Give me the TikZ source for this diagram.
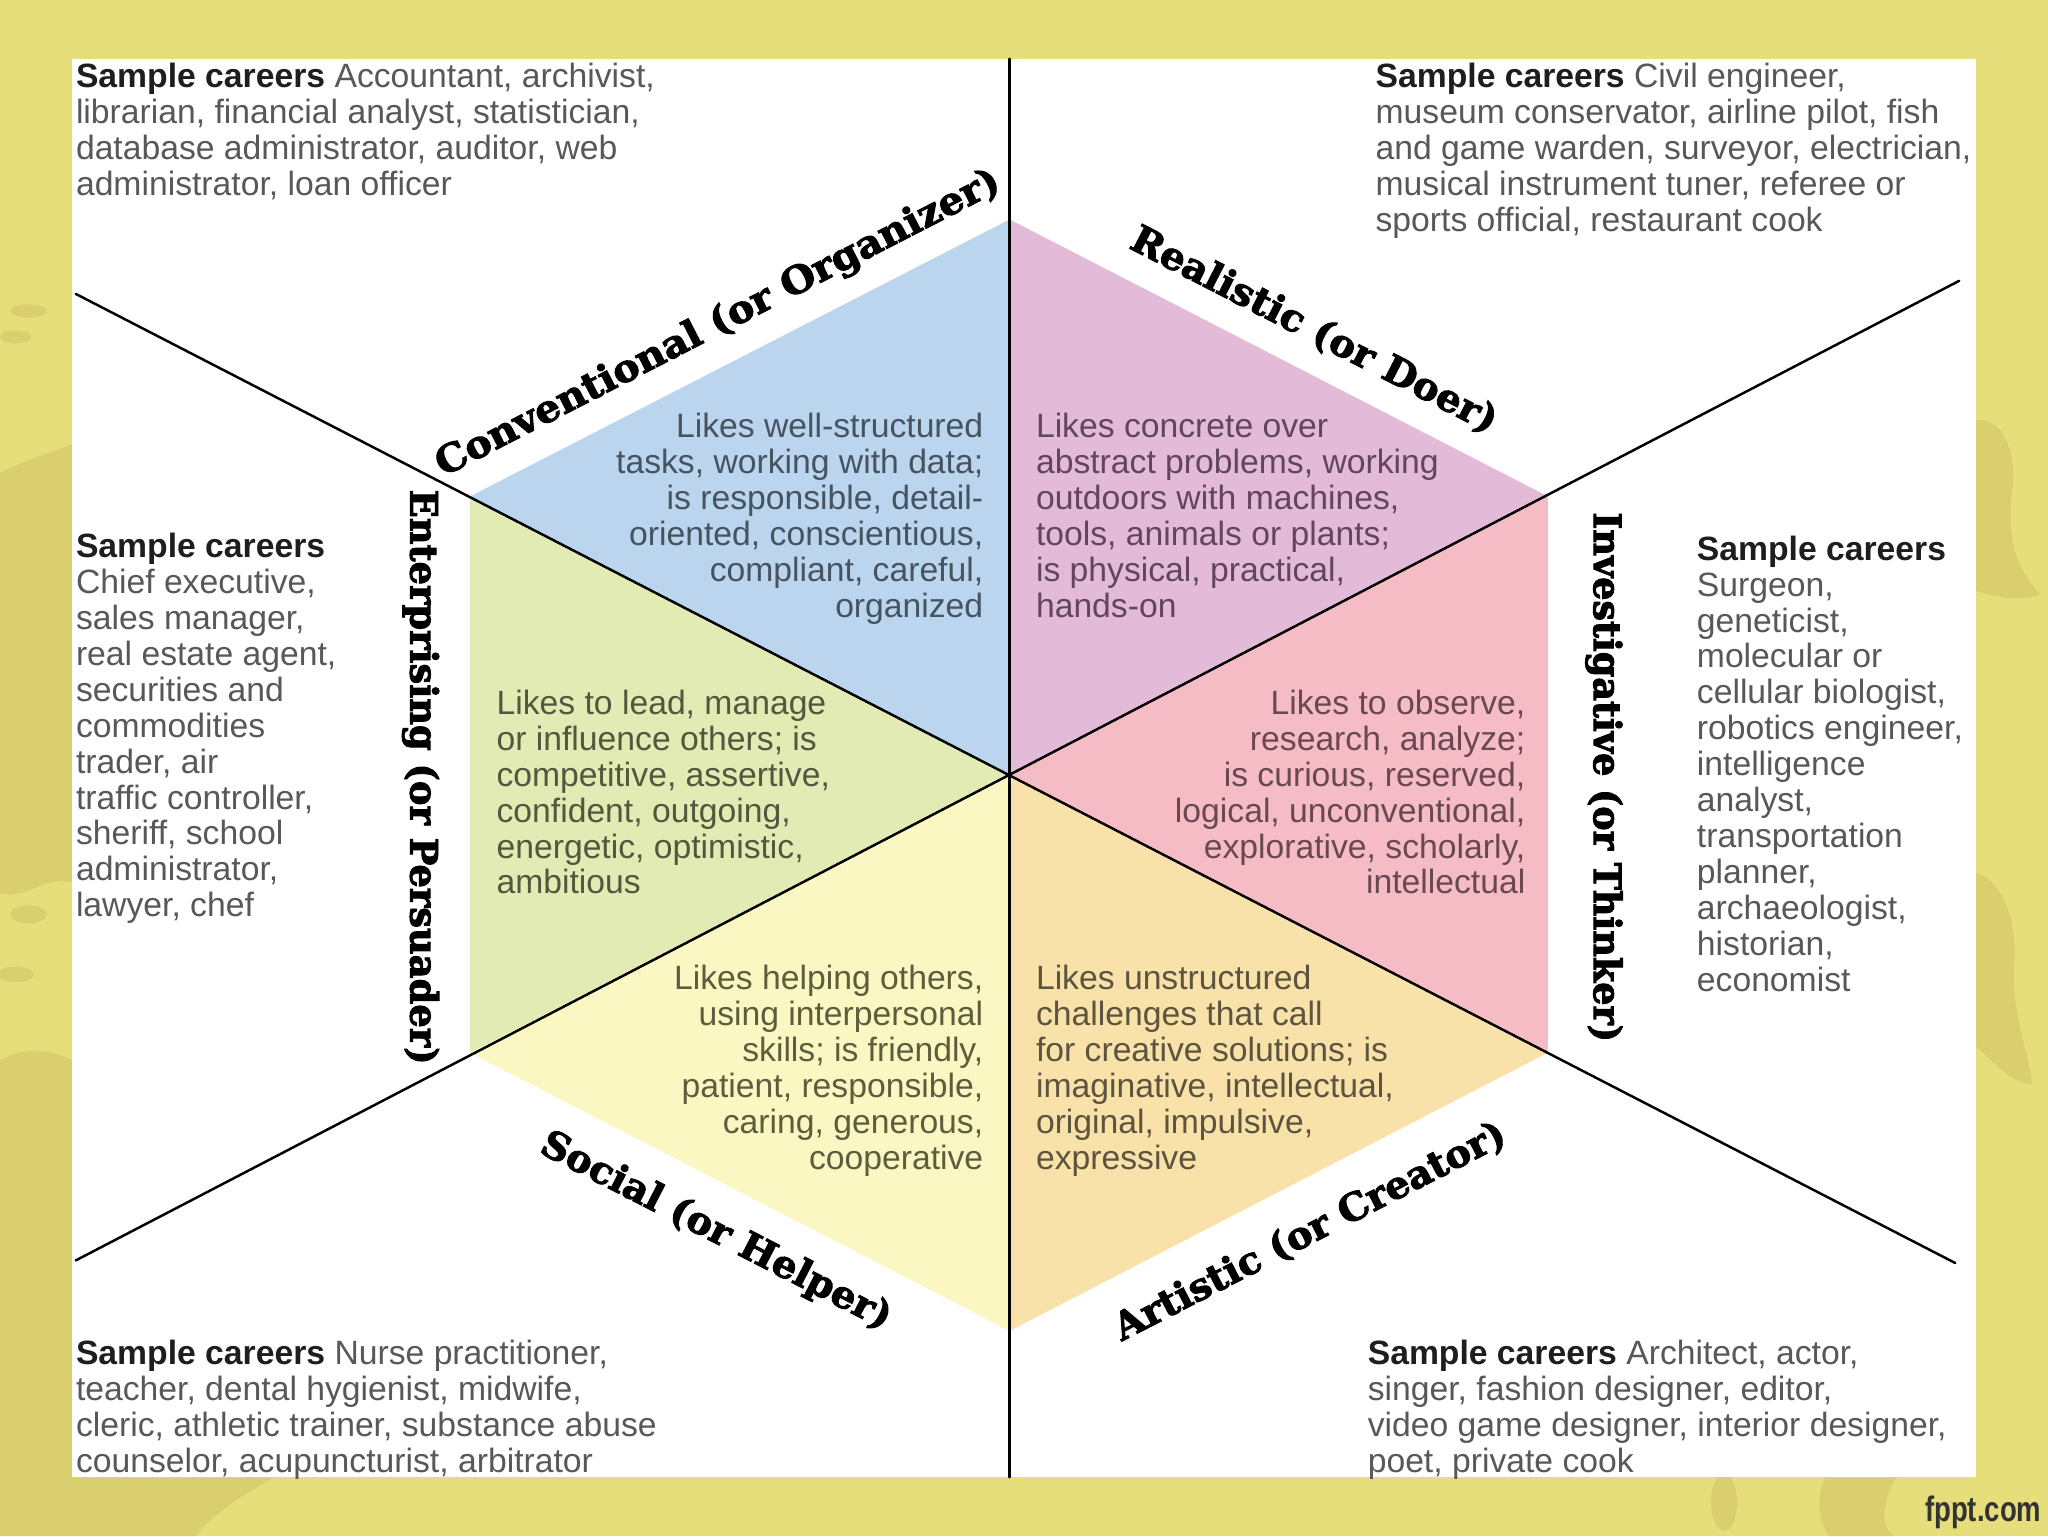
\documentclass[tikz,border=0pt]{standalone}
\usepackage{fontspec}
\setmainfont{Liberation Sans}
\newfontfamily\slab{DejaVu Serif}[BoldFeatures={FakeBold=2.5}]
\definecolor{bgyellow}{RGB}{229,222,122}
\definecolor{bgdark}{RGB}{217,207,111}
\definecolor{cblue}{RGB}{186,213,237}
\definecolor{rpink}{RGB}{228,186,217}
\definecolor{ipink}{RGB}{245,188,198}
\definecolor{aorange}{RGB}{249,226,170}
\definecolor{syellow}{RGB}{251,247,194}
\definecolor{egreen}{RGB}{227,235,180}
\definecolor{txtgrey}{RGB}{88,88,88}
\definecolor{txtdark}{RGB}{30,30,30}
\definecolor{tc}{RGB}{70,84,98}
\definecolor{tr}{RGB}{98,70,92}
\definecolor{te}{RGB}{82,88,62}
\definecolor{ti}{RGB}{105,72,82}
\definecolor{ts}{RGB}{95,92,62}
\definecolor{ta}{RGB}{92,84,62}
\tikzset{
  body/.style={font=\fontsize{25.8}{27.5}\selectfont, text=txtgrey, inner sep=0pt},
  careers/.style={body, align=left, anchor=north west},
  descl/.style={body, align=left, anchor=north west},
  descr/.style={body, align=right, anchor=north east},
  hexlabel/.style={font=\slab\bfseries\fontsize{29}{29}\selectfont, text=black, inner sep=0pt},
  divider/.style={line width=1.9pt, black, line cap=round},
  splotch/.style={fill=bgdark},
}
\newcommand{\samplec}{{\bfseries\color{txtdark}Sample careers}}
\begin{document}
\begin{tikzpicture}[x=1pt,y=-1pt]
\useasboundingbox (0,0) rectangle (1568,1176);
\fill[bgyellow] (0,0) rectangle (1568,1176);
% background splotches
\fill[splotch] (0,362) .. controls (20,352) and (40,346) .. (56,340) -- (56,676) .. controls (38,668) and (18,690) .. (0,684) -- cycle;
\fill[splotch] (0,812) .. controls (20,800) and (40,804) .. (56,812) -- (56,1131) -- (210,1131) .. controls (180,1148) and (160,1162) .. (150,1176) -- (0,1176) -- cycle;
\fill[splotch] (22,238) ellipse (14 and 5);
\fill[splotch] (12,258) ellipse (12 and 5);
\fill[splotch] (22,700) ellipse (14 and 7);
\fill[splotch] (12,746) ellipse (14 and 6);
\fill[splotch] (1512,322) .. controls (1532,318) and (1546,345) .. (1540,380) .. controls (1536,420) and (1548,440) .. (1562,455) .. controls (1545,462) and (1525,456) .. (1512,452) -- cycle;
\fill[splotch] (1512,668) .. controls (1530,672) and (1545,700) .. (1542,740) .. controls (1540,775) and (1552,800) .. (1556,830) .. controls (1540,830) and (1525,812) .. (1512,800) -- cycle;
\fill[splotch] (1320,1150) ellipse (10 and 22);
\fill[splotch] (1452,1131) .. controls (1440,1150) and (1440,1170) .. (1450,1176) -- (1400,1176) .. controls (1390,1160) and (1392,1140) .. (1398,1131) -- cycle;
\fill[white] (55,45) rectangle (1513,1131);
% hexagon vertices
\coordinate (C) at (773,593);
\coordinate (T) at (773,168);
\coordinate (UR) at (1185,380);
\coordinate (LR) at (1185,806);
\coordinate (B) at (773,1019);
\coordinate (LL) at (360,806);
\coordinate (UL) at (360,380);
\fill[cblue] (C) -- (UL) -- (T) -- cycle;
\fill[rpink] (C) -- (T) -- (UR) -- cycle;
\fill[ipink] (C) -- (UR) -- (LR) -- cycle;
\fill[aorange] (C) -- (LR) -- (B) -- cycle;
\fill[syellow] (C) -- (B) -- (LL) -- cycle;
\fill[egreen] (C) -- (LL) -- (UL) -- cycle;
% dividers
\coordinate (Vt) at (773,45);
\coordinate (Vb) at (773,1131);
\coordinate (L1a) at (58,225);
\coordinate (L1b) at (1497,967);
\coordinate (L2a) at (58,965);
\coordinate (L2b) at (1500,215);
\draw[divider] (Vt) -- (Vb);
\draw[divider] (L1a) -- (L1b);
\draw[divider] (L2a) -- (L2b);
% hexagon labels
\node[hexlabel, rotate=27.23, xscale=1.05] (lconv) at (550,248) {Conventional (or Organizer)};
\node[hexlabel, rotate=-27.23, xscale=1.03] (lreal) at (1006,253) {Realistic (or Doer)};
\node[hexlabel, rotate=-90, xscale=0.965] (linv) at (1228,595) {Investigative (or Thinker)};
\node[hexlabel, rotate=27.23, xscale=1.02] (lart) at (1003,943) {Artistic (or Creator)};
\node[hexlabel, rotate=-27.23, xscale=1.02] (lsoc) at (548,943) {Social (or Helper)};
\node[hexlabel, rotate=-90, xscale=0.972] (lent) at (322,595) {Enterprising (or Persuader)};
% descriptions
\node[descr, text=tc] (dconv) at (753,316) {Likes well-structured\\tasks, working with data;\\is responsible, detail-\\oriented, conscientious,\\compliant, careful,\\organized};
\node[descl, text=tr] (dreal) at (793,316) {Likes concrete over\\abstract problems, working\\outdoors with machines,\\tools, animals or plants;\\is physical, practical,\\hands-on};
\node[descl, text=te] (dent) at (380,528) {Likes to lead, manage\\or influence others; is\\competitive, assertive,\\confident, outgoing,\\energetic, optimistic,\\ambitious};
\node[descr, text=ti] (dinv) at (1168,528) {Likes to observe,\\research, analyze;\\is curious, reserved,\\logical, unconventional,\\explorative, scholarly,\\intellectual};
\node[descr, text=ts] (dsoc) at (753,739) {Likes helping others,\\using interpersonal\\skills; is friendly,\\patient, responsible,\\caring, generous,\\cooperative};
\node[descl, text=ta] (dart) at (793,739) {Likes unstructured\\challenges that call\\for creative solutions; is\\imaginative, intellectual,\\original, impulsive,\\expressive};
% careers
\node[careers] (cconv) at (58,48) {\samplec{} Accountant, archivist,\\librarian, financial analyst, statistician,\\database administrator, auditor, web\\administrator, loan officer};
\node[careers] (creal) at (1053,48) {\samplec{} Civil engineer,\\museum conservator, airline pilot, fish\\and game warden, surveyor, electrician,\\musical instrument tuner, referee or\\sports official, restaurant cook};
\node[careers] (cent) at (58,408) {\samplec\\Chief executive,\\sales manager,\\real estate agent,\\securities and\\commodities\\trader, air\\traffic controller,\\sheriff, school\\administrator,\\lawyer, chef};
\node[careers] (cinv) at (1299,410) {\samplec\\Surgeon,\\geneticist,\\molecular or\\cellular biologist,\\robotics engineer,\\intelligence\\analyst,\\transportation\\planner,\\archaeologist,\\historian,\\economist};
\node[careers] (csoc) at (58,1026) {\samplec{} Nurse practitioner,\\teacher, dental hygienist, midwife,\\cleric, athletic trainer, substance abuse\\counselor, acupuncturist, arbitrator};
\node[careers] (cart) at (1047,1026) {\samplec{} Architect, actor,\\singer, fashion designer, editor,\\video game designer, interior designer,\\poet, private cook};
% footer
\node[font=\bfseries\fontsize{27}{27}\selectfont, text=black!80, inner sep=0pt, anchor=base east, xscale=0.78] (fppt) at (1563,1165) {fppt.com};
\end{tikzpicture}
\end{document}
